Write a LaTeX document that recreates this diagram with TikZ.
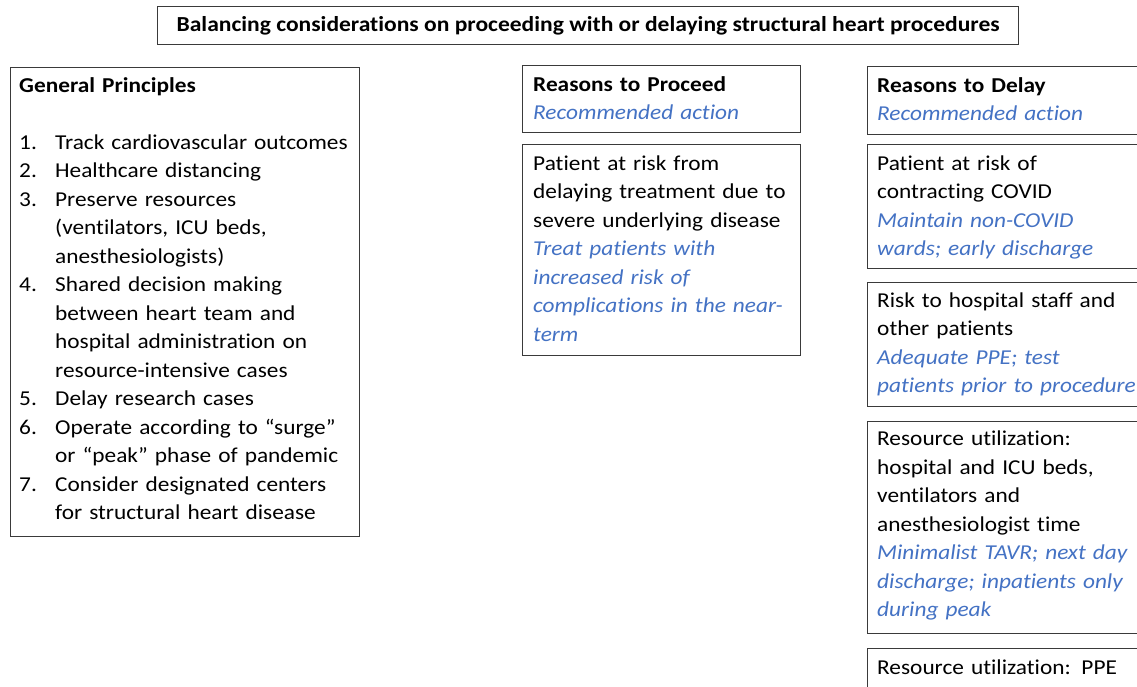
\documentclass[tikz,border=0pt]{standalone}
\usepackage{fontspec}
\setmainfont{Carlito}[FakeStretch=1.1,Ligatures=NoCommon]
\definecolor{actblue}{HTML}{4472C4}
\definecolor{boxgray}{HTML}{3A3A3A}
\tikzset{
  box/.style={draw=boxgray, line width=1.2pt, inner sep=0pt, anchor=north west},
  txt/.style={anchor=north west, inner sep=0pt, align=left, text width=330pt,
    font=\fontsize{21.2}{28.5}\selectfont},
  titletxt/.style={inner sep=0pt, font=\bfseries\fontsize{21.4}{24}\selectfont},
}
\newcommand{\act}[1]{\textcolor{actblue}{\itshape #1}}
\newcommand{\itm}[1]{\makebox[36pt][l]{#1}}
\newcommand{\cnt}{\hspace*{36pt}}
\begin{document}
\begin{tikzpicture}[x=1pt,y=1pt]
\clip (0,0) rectangle (1137,-686);
\fill[white] (0,0) rectangle (1137,-686);
% title
\node[box, minimum width=861pt, minimum height=38pt] (title) at (157,-6) {};
\node[titletxt] (titlet) at (title.center) {Balancing considerations on proceeding with or delaying structural heart procedures};
% general principles
\node[box, minimum width=349pt, minimum height=469pt] (gp) at (10,-67) {};
\node[txt] (gpt) at (19,-72) {\strut\textbf{General Principles}\\[28.5pt]
\itm{1.}Track cardiovascular outcomes\\
\itm{2.}Healthcare distancing\\
\itm{3.}Preserve resources\\
\cnt(ventilators, ICU beds,\\
\cnt anesthesiologists)\\
\itm{4.}Shared decision making\\
\cnt between heart team and\\
\cnt hospital administration on\\
\cnt resource-intensive cases\\
\itm{5.}Delay research cases\\
\itm{6.}Operate according to “surge”\\
\cnt or “peak” phase of pandemic\\
\itm{7.}Consider designated centers\\
\cnt for structural heart disease};
% proceed
\node[box, minimum width=278pt, minimum height=67pt] (proh) at (522,-65) {};
\node[txt] (proht) at (533,-71) {\strut\textbf{Reasons to Proceed}\\
\act{Recommended action}};
\node[box, minimum width=278pt, minimum height=211pt] (pro1) at (522,-144) {};
\node[txt] (pro1t) at (533,-150) {\strut Patient at risk from\\
delaying treatment due to\\
severe underlying disease\\
\act{Treat patients with}\\
\act{increased risk of}\\
\act{complications in the near-}\\
\act{term}};
% delay
\node[box, minimum width=290pt, minimum height=68pt] (delh) at (867,-66) {};
\node[txt] (delht) at (877,-72) {\strut\textbf{Reasons to Delay}\\
\act{Recommended action}};
\node[box, minimum width=290pt, minimum height=124pt] (del1) at (867,-144) {};
\node[txt] (del1t) at (877,-150) {\strut Patient at risk of\\
contracting COVID\\
\act{Maintain non-COVID}\\
\act{wards; early discharge}};
\node[box, minimum width=290pt, minimum height=124pt] (del2) at (867,-282) {};
\node[txt] (del2t) at (877,-287) {\strut Risk to hospital staff and\\
other patients\\
\act{Adequate PPE; test}\\
\act{patients prior to procedure}};
\node[box, minimum width=290pt, minimum height=212pt] (del3) at (867,-421) {};
\node[txt] (del3t) at (877,-425.5) {\strut Resource utilization:\\
hospital and ICU beds,\\
ventilators and\\
anesthesiologist time\\
\act{Minimalist TAVR; next day}\\
\act{discharge; inpatients only}\\
\act{during peak}};
\node[box, minimum width=290pt, minimum height=60pt] (del4) at (867,-648) {};
\node[txt] (del4t) at (877,-654) {\strut Resource utilization: PPE};
\end{tikzpicture}
\end{document}
